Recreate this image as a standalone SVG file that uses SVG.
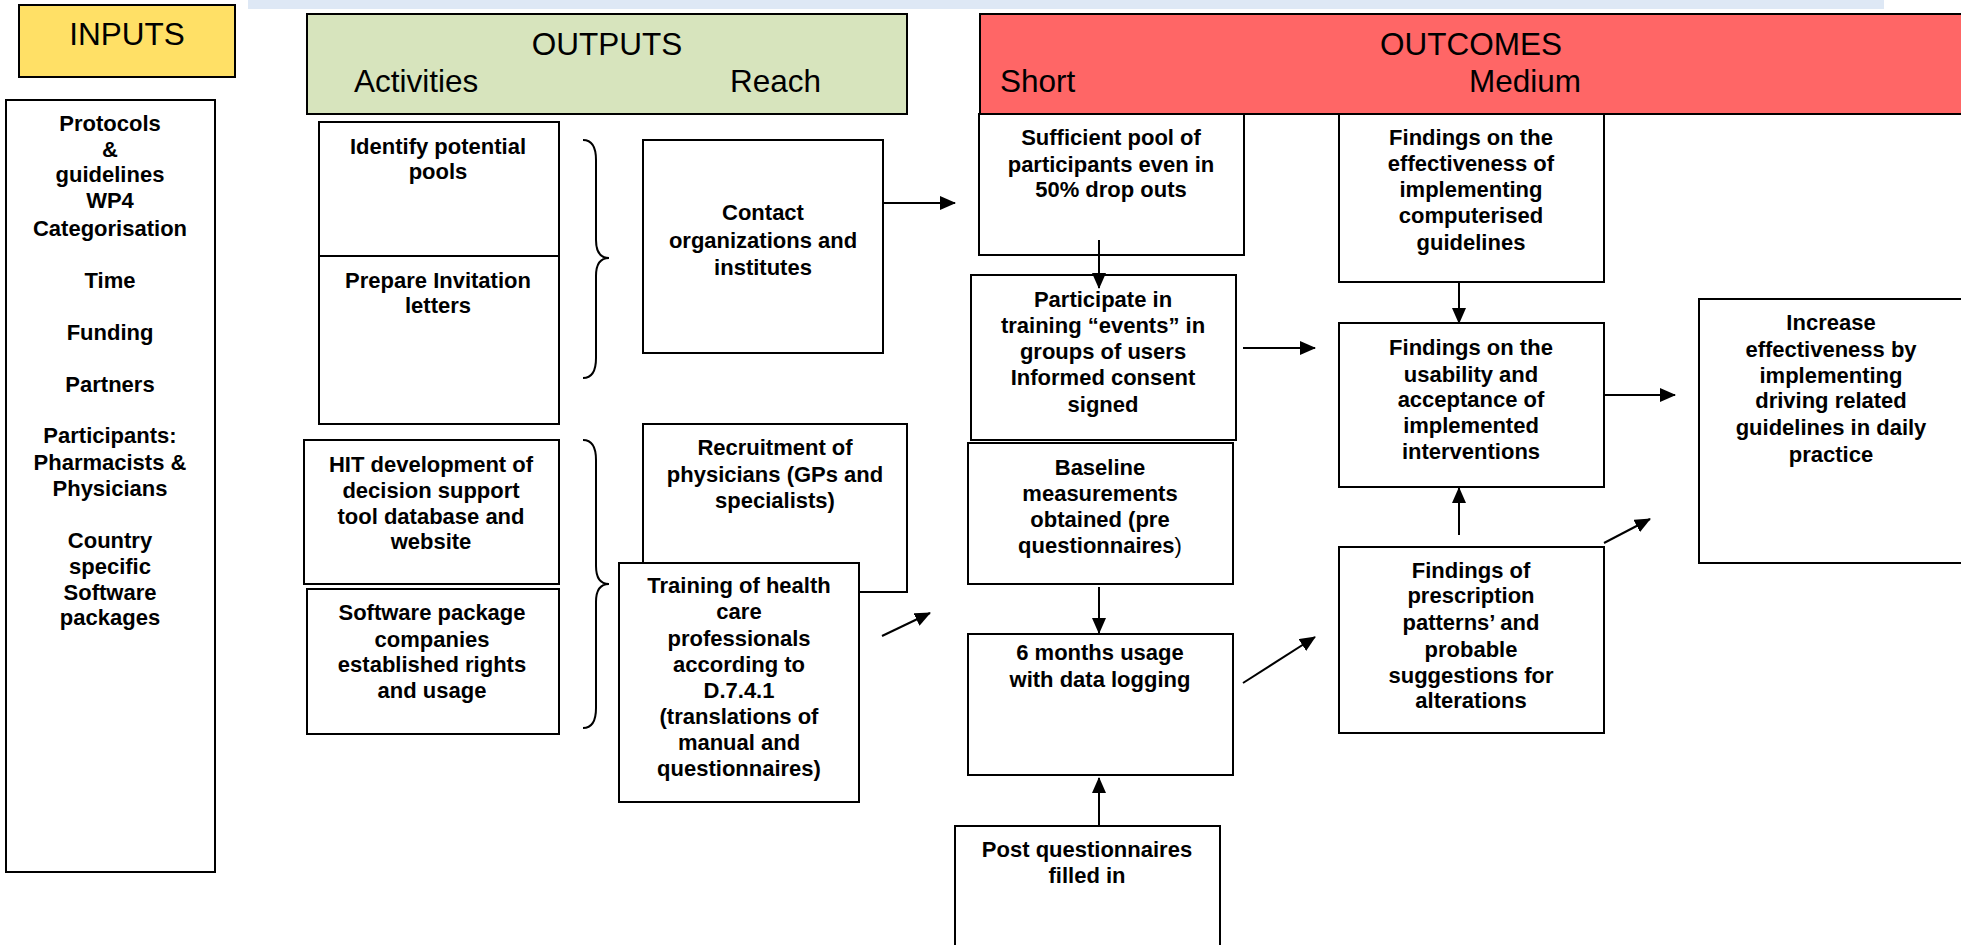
<svg xmlns="http://www.w3.org/2000/svg" width="1961" height="945" viewBox="0 0 1961 945">
<defs>
<style>
.box{fill:#fff;stroke:#000;stroke-width:2}
.hdr{font-family:"Liberation Sans",Arial,sans-serif;font-size:31.5px;fill:#000}
.t{font-family:"Liberation Sans",Arial,sans-serif;font-size:22px;font-weight:bold;fill:#000;text-anchor:middle}
.c{stroke:#000;stroke-width:2;fill:none}
</style>
<marker id="ah" markerUnits="userSpaceOnUse" markerWidth="16" markerHeight="14" refX="15" refY="7" orient="auto">
<path d="M0,0 L16,7 L0,14 Z" fill="#000"/>
</marker>
</defs>
<rect width="1961" height="945" fill="#fff"/>
<rect x="248" y="0" width="1636" height="9" fill="#DEE8F5"/>

<g id="inputs-header">
<rect x="19" y="5" width="216" height="72" fill="#FFE066" stroke="#000" stroke-width="2"/>
<text class="hdr" x="127" y="45" text-anchor="middle">INPUTS</text>
</g>
<g id="outputs-header">
<rect x="307" y="14" width="600" height="100" fill="#D7E4BD" stroke="#000" stroke-width="2"/>
<text class="hdr" x="607" y="55" text-anchor="middle">OUTPUTS</text>
<text class="hdr" x="354" y="92">Activities</text>
<text class="hdr" x="730" y="92">Reach</text>
</g>
<g id="outcomes-header">
<rect x="980" y="14" width="990" height="100" fill="#FF6666" stroke="#000" stroke-width="2"/>
<text class="hdr" x="1471" y="55" text-anchor="middle">OUTCOMES</text>
<text class="hdr" x="1000" y="92">Short</text>
<text class="hdr" x="1469" y="92">Medium</text>
</g>

<g id="inputs-list">
<rect class="box" x="6" y="100" width="209" height="772"/>
<text class="t" x="110"><tspan x="110" y="131">Protocols</tspan><tspan x="110" y="157">&amp;</tspan><tspan x="110" y="182">guidelines</tspan><tspan x="110" y="208">WP4</tspan><tspan x="110" y="236">Categorisation</tspan><tspan x="110" y="288">Time</tspan><tspan x="110" y="340">Funding</tspan><tspan x="110" y="392">Partners</tspan><tspan x="110" y="443">Participants:</tspan><tspan x="110" y="470">Pharmacists &amp;</tspan><tspan x="110" y="496">Physicians</tspan><tspan x="110" y="548">Country</tspan><tspan x="110" y="574">specific</tspan><tspan x="110" y="600">Software</tspan><tspan x="110" y="625">packages</tspan></text>
</g>

<g id="identify-pools">
<rect class="box" x="319" y="122" width="240" height="134"/>
<text class="t"><tspan x="438" y="154">Identify potential</tspan><tspan x="438" y="179">pools</tspan></text>
</g>
<g id="prepare-letters">
<rect class="box" x="319" y="256" width="240" height="168"/>
<text class="t"><tspan x="438" y="288">Prepare Invitation</tspan><tspan x="438" y="313">letters</tspan></text>
</g>
<g id="hit-development">
<rect class="box" x="304" y="440" width="255" height="144"/>
<text class="t"><tspan x="431" y="472">HIT development of</tspan><tspan x="431" y="498">decision support</tspan><tspan x="431" y="524">tool database and</tspan><tspan x="431" y="549">website</tspan></text>
</g>
<g id="software-companies">
<rect class="box" x="307" y="589" width="252" height="145"/>
<text class="t"><tspan x="432" y="620">Software package</tspan><tspan x="432" y="647">companies</tspan><tspan x="432" y="672">established rights</tspan><tspan x="432" y="698">and usage</tspan></text>
</g>

<g id="contact-orgs">
<rect class="box" x="643" y="140" width="240" height="213"/>
<text class="t"><tspan x="763" y="220">Contact</tspan><tspan x="763" y="248">organizations and</tspan><tspan x="763" y="275">institutes</tspan></text>
</g>
<g id="recruitment">
<rect class="box" x="643" y="424" width="264" height="168"/>
<text class="t"><tspan x="775" y="455">Recruitment of</tspan><tspan x="775" y="482">physicians (GPs and</tspan><tspan x="775" y="508">specialists)</tspan></text>
</g>
<g id="training">
<rect class="box" x="619" y="563" width="240" height="239"/>
<text class="t"><tspan x="739" y="593">Training of health</tspan><tspan x="739" y="619">care</tspan><tspan x="739" y="646">professionals</tspan><tspan x="739" y="672">according to</tspan><tspan x="739" y="698">D.7.4.1</tspan><tspan x="739" y="724">(translations of</tspan><tspan x="739" y="750">manual and</tspan><tspan x="739" y="776">questionnaires)</tspan></text>
</g>

<g id="sufficient-pool">
<rect class="box" x="979" y="114" width="265" height="141"/>
<text class="t"><tspan x="1111" y="145">Sufficient pool of</tspan><tspan x="1111" y="172">participants even in</tspan><tspan x="1111" y="197">50% drop outs</tspan></text>
</g>
<g id="participate-training">
<rect class="box" x="971" y="275" width="265" height="165"/>
<text class="t"><tspan x="1103" y="307">Participate in</tspan><tspan x="1103" y="333">training “events” in</tspan><tspan x="1103" y="359">groups of users</tspan><tspan x="1103" y="385">Informed consent</tspan><tspan x="1103" y="412">signed</tspan></text>
</g>
<g id="baseline">
<rect class="box" x="968" y="443" width="265" height="141"/>
<text class="t"><tspan x="1100" y="475">Baseline</tspan><tspan x="1100" y="501">measurements</tspan><tspan x="1100" y="527">obtained (pre</tspan><tspan x="1100" y="553">questionnaires<tspan font-weight="normal">)</tspan></tspan></text>
</g>
<g id="six-months">
<rect class="box" x="968" y="634" width="265" height="141"/>
<text class="t"><tspan x="1100" y="660">6 months usage</tspan><tspan x="1100" y="687">with data logging</tspan></text>
</g>
<g id="post-questionnaires">
<rect class="box" x="955" y="826" width="265" height="130"/>
<text class="t"><tspan x="1087" y="857">Post questionnaires</tspan><tspan x="1087" y="883">filled in</tspan></text>
</g>

<g id="findings-effectiveness">
<rect class="box" x="1339" y="114" width="265" height="168"/>
<text class="t"><tspan x="1471" y="145">Findings on the</tspan><tspan x="1471" y="171">effectiveness of</tspan><tspan x="1471" y="197">implementing</tspan><tspan x="1471" y="223">computerised</tspan><tspan x="1471" y="250">guidelines</tspan></text>
</g>
<g id="findings-usability">
<rect class="box" x="1339" y="323" width="265" height="164"/>
<text class="t"><tspan x="1471" y="355">Findings on the</tspan><tspan x="1471" y="382">usability and</tspan><tspan x="1471" y="407">acceptance of</tspan><tspan x="1471" y="433">implemented</tspan><tspan x="1471" y="459">interventions</tspan></text>
</g>
<g id="findings-prescription">
<rect class="box" x="1339" y="547" width="265" height="186"/>
<text class="t"><tspan x="1471" y="578">Findings of</tspan><tspan x="1471" y="603">prescription</tspan><tspan x="1471" y="630">patterns’ and</tspan><tspan x="1471" y="657">probable</tspan><tspan x="1471" y="683">suggestions for</tspan><tspan x="1471" y="708">alterations</tspan></text>
</g>
<g id="increase-effectiveness">
<rect class="box" x="1699" y="299" width="280" height="264"/>
<text class="t"><tspan x="1831" y="330">Increase</tspan><tspan x="1831" y="357">effectiveness by</tspan><tspan x="1831" y="383">implementing</tspan><tspan x="1831" y="408">driving related</tspan><tspan x="1831" y="435">guidelines in daily</tspan><tspan x="1831" y="462">practice</tspan></text>
</g>

<g id="connectors">
<path class="c" d="M583,140 Q596,140 596,160 L596,240 Q596,258 609,258 Q596,258 596,276 L596,358 Q596,378 583,378"/>
<path class="c" d="M583,440 Q596,440 596,460 L596,566 Q596,584 609,584 Q596,584 596,602 L596,708 Q596,728 583,728"/>
<line class="c" x1="883" y1="203" x2="955" y2="203" marker-end="url(#ah)"/>
<line class="c" x1="1099" y1="240" x2="1099" y2="288" marker-end="url(#ah)"/>
<line class="c" x1="1243" y1="348" x2="1315" y2="348" marker-end="url(#ah)"/>
<line class="c" x1="1099" y1="587" x2="1099" y2="633" marker-end="url(#ah)"/>
<line class="c" x1="1099" y1="826" x2="1099" y2="778" marker-end="url(#ah)"/>
<line class="c" x1="882" y1="636" x2="930" y2="613" marker-end="url(#ah)"/>
<line class="c" x1="1243" y1="683" x2="1315" y2="637" marker-end="url(#ah)"/>
<line class="c" x1="1459" y1="282" x2="1459" y2="323" marker-end="url(#ah)"/>
<line class="c" x1="1459" y1="535" x2="1459" y2="488" marker-end="url(#ah)"/>
<line class="c" x1="1604" y1="395" x2="1675" y2="395" marker-end="url(#ah)"/>
<line class="c" x1="1604" y1="543" x2="1650" y2="519" marker-end="url(#ah)"/>
</g>
</svg>
